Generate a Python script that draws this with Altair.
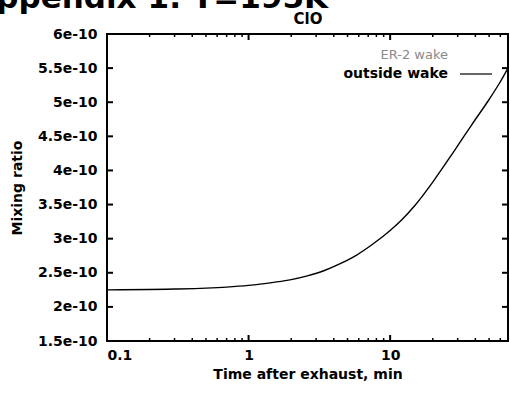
import altair as alt
import pandas as pd

# Modelled ClO mixing ratio after exhaust (outside wake), T = 195 K
time_min = [0.1, 0.2, 0.3, 0.5, 0.7, 1.0, 1.5, 2.0, 2.6, 3.4, 4.4, 5.8,
            7.6, 10.0, 12.0, 15.0, 20.0, 28.0, 38.0, 50.0, 60.0, 68.0]
mixing_ratio = [2.25e-10, 2.255e-10, 2.262e-10, 2.275e-10, 2.29e-10, 2.315e-10,
                2.36e-10, 2.40e-10, 2.455e-10, 2.53e-10, 2.63e-10, 2.76e-10,
                2.925e-10, 3.12e-10, 3.27e-10, 3.49e-10, 3.83e-10, 4.27e-10,
                4.68e-10, 5.04e-10, 5.30e-10, 5.50e-10]

y_ticks = [1.5e-10, 2e-10, 2.5e-10, 3e-10, 3.5e-10, 4e-10, 4.5e-10, 5e-10,
           5.5e-10, 6e-10]
x_major = [0.1, 1, 10]
x_minor = [0.2, 0.3, 0.4, 0.5, 0.6, 0.7, 0.8, 0.9,
           2, 3, 4, 5, 6, 7, 8, 9,
           20, 30, 40, 50, 60]

W, H = 401, 307
FONT = "DejaVu Sans"

curve = pd.DataFrame({"time": time_min, "ratio": mixing_ratio})
ytk = pd.DataFrame({"ratio": y_ticks})
xmaj = pd.DataFrame({"time": x_major})
xmin = pd.DataFrame({"time": x_minor})
one = pd.DataFrame({"k": [0]})

xscale = alt.Scale(type="log", domain=[0.1, 68], nice=False)
yscale = alt.Scale(domain=[1.5e-10, 6e-10], nice=False, zero=False)

xaxis = alt.Axis(values=x_major, title="Time after exhaust, min",
                 labelExpr="datum.value < 1 ? '0.1' : format(datum.value, 'd')",
                 domain=False, grid=False, ticks=False,
                 labelPadding=7, labelFont=FONT, labelFontSize=14,
                 labelFontWeight="bold", labelColor="black",
                 titleFont=FONT, titleFontSize=14, titleFontWeight="bold",
                 titleColor="black", titlePadding=5)
yaxis = alt.Axis(values=y_ticks, title="Mixing ratio",
                 labelExpr="format(datum.value * 1e10, '.2~f') + 'e-10'",
                 domain=False, grid=False, ticks=False,
                 labelPadding=10, labelFont=FONT, labelFontSize=14,
                 labelFontWeight="bold", labelColor="black",
                 titleFont=FONT, titleFontSize=14, titleFontWeight="bold",
                 titleColor="black", titlePadding=13)


def X():
    return alt.X("time:Q", scale=xscale, axis=xaxis)


def Y():
    return alt.Y("ratio:Q", scale=yscale, axis=yaxis)


line = alt.Chart(curve).mark_line(
    color="black", strokeWidth=1.4, interpolate="monotone"
).encode(x=X(), y=Y())

# inward tick marks on all four sides
ytick_l = alt.Chart(ytk).mark_rule(color="black", strokeWidth=2).encode(
    y=Y(), x=alt.value(0), x2=alt.value(6))
ytick_r = alt.Chart(ytk).mark_rule(color="black", strokeWidth=2).encode(
    y=Y(), x=alt.value(W), x2=alt.value(W - 6))
xmaj_b = alt.Chart(xmaj).mark_rule(color="black", strokeWidth=2).encode(
    x=X(), y=alt.value(H), y2=alt.value(H - 6))
xmaj_t = alt.Chart(xmaj).mark_rule(color="black", strokeWidth=2).encode(
    x=X(), y=alt.value(0), y2=alt.value(6))
xmin_b = alt.Chart(xmin).mark_rule(color="black", strokeWidth=1.5).encode(
    x=X(), y=alt.value(H), y2=alt.value(H - 3))
xmin_t = alt.Chart(xmin).mark_rule(color="black", strokeWidth=1.5).encode(
    x=X(), y=alt.value(0), y2=alt.value(3))

# key
key_title = alt.Chart(one).mark_text(
    text="ER-2 wake", align="right", baseline="middle", font=FONT,
    fontSize=13, color="#8a8a8a", fontWeight="normal"
).encode(x=alt.value(341), y=alt.value(21))
key_label = alt.Chart(one).mark_text(
    text="outside wake", align="right", baseline="middle", font=FONT,
    fontSize=14, fontWeight="bold", color="black"
).encode(x=alt.value(341), y=alt.value(40))
key_line = alt.Chart(one).mark_rule(color="black", strokeWidth=1.2).encode(
    x=alt.value(353), x2=alt.value(385), y=alt.value(40))

# page heading with species subscript
heading = alt.Chart(one).mark_text(
    text="Appendix 1: T=195K", align="right", baseline="alphabetic", font=FONT,
    fontSize=31, fontWeight="bold", color="black"
).encode(x=alt.value(221), y=alt.value(-26))
subscript = alt.Chart(one).mark_text(
    text="ClO", align="center", baseline="alphabetic", font=FONT,
    fontSize=15, fontWeight="bold", color="black"
).encode(x=alt.value(201), y=alt.value(-10))

chart = alt.layer(
    line, ytick_l, ytick_r, xmaj_b, xmaj_t, xmin_b, xmin_t,
    key_title, key_label, key_line, heading, subscript
).properties(
    width=W, height=H,
    autosize=alt.AutoSizeParams(type="none"),
    padding={"left": 107, "top": 34, "right": 2, "bottom": 54},
    background="white",
).configure_view(stroke="black", strokeWidth=2)

chart.save("out.html", embed_options={"renderer": "svg", "actions": False})
